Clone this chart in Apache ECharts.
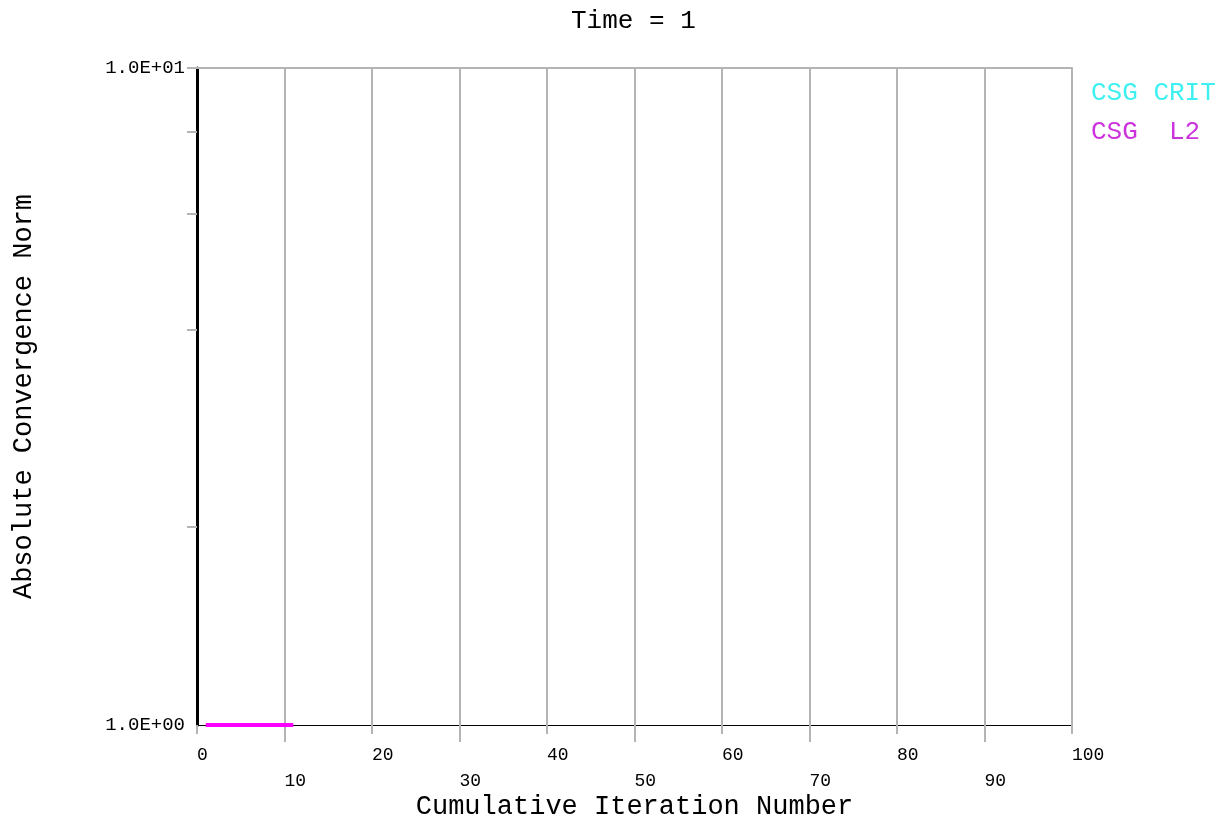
<!DOCTYPE html>
<html><head><meta charset="utf-8">
<script src="https://cdn.jsdelivr.net/npm/echarts@6/dist/echarts.min.js"></script>
<style>html,body{margin:0;padding:0;background:#fff}#c{width:1230px;height:820px}</style>
</head><body><div id="c"></div>
<script>
const titleText = 'Time = 1';
const xName = 'Cumulative Iteration Number';
const yName = 'Absolute Convergence Norm';
const xTicks = [0, 10, 20, 30, 40, 50, 60, 70, 80, 90, 100];
const xLongTicks = [10, 30, 50, 70, 90];
const yTickMarks = [2, 4, 6, 8, 10];
const yLabelValues = [1, 10];
const yLabelTexts = ['1.0E+00', '1.0E+01'];
const seriesNames = ['CSG CRIT', 'CSG  L2'];
const critIter = [];
const critNorm = [];
const l2Iter = [1, 2, 3, 4, 5, 6, 7, 8, 9, 10, 11];
const l2Norm = [1, 1, 1, 1, 1, 1, 1, 1, 1, 1, 1];

const FONT = "'Liberation Mono', 'Courier New', monospace";
const GRAY = '#b4b4b4';
const zip = (a, b) => a.map((v, i) => [v, b[i]]);

const chart = echarts.init(document.getElementById('c'), null, {renderer: 'canvas'});
chart.setOption({
  backgroundColor: '#fff',
  animation: false,
  title: {
    text: titleText, left: 566, top: 3,
    textStyle: {fontFamily: FONT, fontSize: 26, fontWeight: 'normal', color: '#000'}
  },
  legend: {
    orient: 'vertical', left: 1081, top: 75, itemWidth: 0, itemHeight: 0, itemGap: 13,
    icon: 'none', selectedMode: false,
    textStyle: {fontFamily: FONT, fontSize: 26},
    data: [
      {name: seriesNames[0], textStyle: {color: '#3ff0f0'}},
      {name: seriesNames[1], textStyle: {color: '#cc33dd'}}
    ]
  },
  grid: {left: 197, right: 158, top: 68, bottom: 95, containLabel: false, outerBoundsMode: 'none'},
  xAxis: [
    {
      type: 'value', min: 0, max: 100, interval: 10, position: 'bottom',
      name: xName, nameLocation: 'middle', nameGap: 68, nameMoveOverlap: false,
      nameTextStyle: {fontFamily: FONT, fontSize: 27, color: '#000'},
      axisLine: {show: true, onZero: false, lineStyle: {color: '#000', width: 1}},
      axisTick: {show: true, length: 9, lineStyle: {color: GRAY, width: 2}},
      axisLabel: {
        margin: 17, fontFamily: FONT, fontSize: 18, color: '#000', lineHeight: 26, align: 'left',
        formatter: v => ((v / 10) % 2 === 1 ? '\n' + v : String(v))
      },
      splitLine: {show: true, showMinLine: false, lineStyle: {color: GRAY, width: 2}}
    },
    {
      type: 'value', min: 0, max: 100, interval: 10, position: 'bottom',
      axisLine: {show: false},
      axisTick: {show: true, length: 17, customValues: xLongTicks, lineStyle: {color: GRAY, width: 2}},
      axisLabel: {show: false},
      splitLine: {show: false}
    },
    {
      type: 'value', min: 0, max: 100, position: 'top',
      axisLine: {show: true, onZero: false, lineStyle: {color: GRAY, width: 2}},
      axisTick: {show: false}, axisLabel: {show: false}, splitLine: {show: false}
    }
  ],
  yAxis: {
    type: 'log', logBase: 10, min: 1, max: 10,
    name: yName, nameLocation: 'middle', nameGap: 160, nameRotate: 90, nameMoveOverlap: false,
    nameTextStyle: {fontFamily: FONT, fontSize: 27, color: '#000'},
    axisLine: {show: true, onZero: false, lineStyle: {color: '#000', width: 3}},
    axisTick: {show: true, length: 10, customValues: yTickMarks, lineStyle: {color: GRAY, width: 2}},
    axisLabel: {
      margin: 12, fontFamily: FONT, fontSize: 19, color: '#000', customValues: yLabelValues,
      formatter: v => { const i = yLabelValues.findIndex(x => Math.abs(x - v) < 1e-9); return i >= 0 ? yLabelTexts[i] : ''; }
    },
    splitLine: {show: false}
  },
  series: [
    {
      name: seriesNames[0], type: 'line', xAxisIndex: 0, data: zip(critIter, critNorm),
      showSymbol: false, color: '#3ff0f0', lineStyle: {color: '#00ffff', width: 4}, clip: false
    },
    {
      name: seriesNames[1], type: 'line', xAxisIndex: 0, data: zip(l2Iter, l2Norm),
      showSymbol: false, color: '#ff00ff', lineStyle: {color: '#ff00ff', width: 4}, clip: false, z: 5
    }
  ]
});
</script></body></html>
